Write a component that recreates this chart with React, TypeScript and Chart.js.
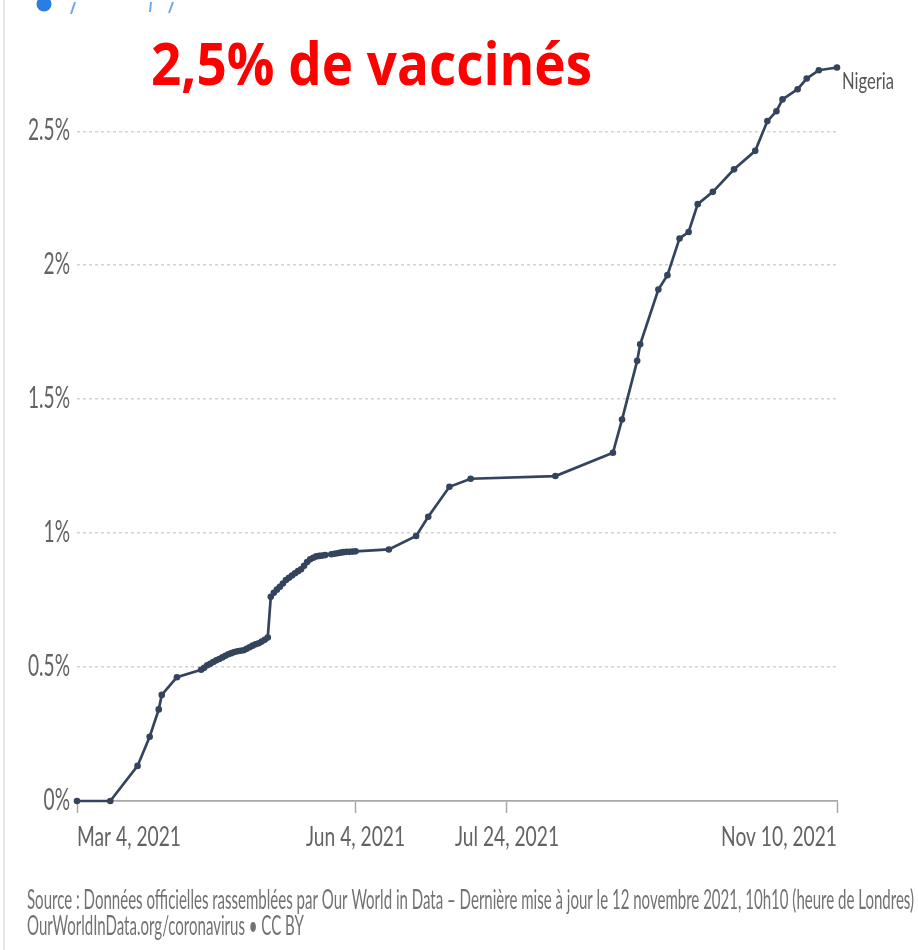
import React, { useEffect, useRef } from "react";
import { Chart, registerables } from "chart.js";

Chart.register(...registerables);

// Days counted from Mar 4, 2021
const dayOffsets = [
  0, 11, 20, 24, 27, 28, 33,
  41, 42, 43, 44, 45, 46, 47, 48, 49, 50, 51, 52, 53, 54, 55, 56, 57, 58, 59, 60, 61, 62, 63,
  64, 65, 66, 67, 68, 69, 70, 71, 72, 73, 74, 75, 76, 77, 78, 79, 80, 81, 82, 84, 85, 86, 87, 88, 89, 90, 91, 92,
  103, 112, 116, 123, 130, 158, 177, 180, 185, 186, 192, 195, 199, 202, 205, 210, 217, 224, 228, 231, 233, 238, 241, 245, 251,
];

// Share of people fully vaccinated, Nigeria (%)
const nigeriaValues = [
  0, 0, 0.131, 0.24, 0.342, 0.396, 0.462,
  0.49, 0.497, 0.507, 0.512, 0.519, 0.525, 0.53, 0.536, 0.542, 0.548, 0.552, 0.556, 0.559, 0.561, 0.563, 0.568, 0.574, 0.58, 0.585, 0.589, 0.595, 0.602, 0.61,
  0.762, 0.777, 0.789, 0.8, 0.812, 0.825, 0.833, 0.842, 0.85, 0.858, 0.865, 0.878, 0.892, 0.902, 0.908, 0.913, 0.915, 0.916, 0.918, 0.921, 0.923, 0.925, 0.927, 0.929, 0.93, 0.93, 0.931, 0.932,
  0.939, 0.989, 1.061, 1.173, 1.203, 1.213, 1.3, 1.424, 1.643, 1.705, 1.909, 1.963, 2.1, 2.124, 2.228, 2.274, 2.358, 2.427, 2.538, 2.575, 2.619, 2.657, 2.697, 2.728, 2.738,
];

const xTickDays = [0, 92, 142, 251];
const xTickLabels = ["Mar 4, 2021", "Jun 4, 2021", "Jul 24, 2021", "Nov 10, 2021"];
const yTickValues = [0, 0.5, 1, 1.5, 2, 2.5];
const yTickLabels = ["0%", "0.5%", "1%", "1.5%", "2%", "2.5%"];

const seriesName = "Nigeria";
const titleText = "2,5% de vaccinés";
const footerLine1 =
  "Source : Données officielles rassemblées par Our World in Data – Dernière mise à jour le 12 novembre 2021, 10h10 (heure de Londres)";
const footerLine2 = "OurWorldInData.org/coronavirus • CC BY";

const LINE_COLOR = "#33445c";

function drawScaled(
  ctx: CanvasRenderingContext2D,
  text: string,
  x: number,
  y: number,
  font: string,
  color: string,
  sx: number,
  align: CanvasTextAlign
) {
  ctx.save();
  ctx.font = font;
  ctx.fillStyle = color;
  ctx.textBaseline = "alphabetic";
  ctx.textAlign = align;
  ctx.translate(x, y);
  ctx.scale(sx, 1);
  ctx.fillText(text, 0, 0);
  ctx.restore();
}

function scaleFor(ctx: CanvasRenderingContext2D, text: string, font: string, target: number) {
  ctx.save();
  ctx.font = font;
  const w = ctx.measureText(text).width;
  ctx.restore();
  return w > 0 ? target / w : 1;
}

const overlayPlugin = {
  id: "overlayTexts",
  afterDraw(chart: any) {
    const ctx: CanvasRenderingContext2D = chart.ctx;
    const xs = chart.scales.x;
    const ys = chart.scales.y;

    // left page border
    ctx.save();
    ctx.strokeStyle = "#dcdcdc";
    ctx.lineWidth = 1.5;
    ctx.beginPath();
    ctx.moveTo(4, 0);
    ctx.lineTo(4, 950);
    ctx.stroke();
    ctx.restore();

    // cut-off blue heading fragment at top
    ctx.save();
    ctx.fillStyle = "#2a7de1";
    ctx.beginPath();
    ctx.arc(44, 4, 7.5, 0, Math.PI * 2);
    ctx.fill();
    ctx.strokeStyle = "#6fa8e8";
    ctx.lineWidth = 2;
    ctx.beginPath();
    ctx.moveTo(75, 2);
    ctx.lineTo(71, 14);
    ctx.moveTo(151, 2);
    ctx.lineTo(150, 12);
    ctx.moveTo(173, 2);
    ctx.lineTo(169, 13);
    ctx.stroke();
    ctx.restore();

    // y tick labels
    const yFont = "31px Lato";
    const ySx = scaleFor(ctx, "2.5%", yFont, 42);
    yTickValues.forEach((v, i) => {
      const py = ys.getPixelForValue(v);
      drawScaled(ctx, yTickLabels[i], 70, py + 9, yFont, "#636363", ySx, "right");
    });

    // x tick labels
    const xFont = "26px Lato";
    const xSx = scaleFor(ctx, "Mar 4, 2021", xFont, 104);
    xTickDays.forEach((d, i) => {
      const px = xs.getPixelForValue(d);
      const align: CanvasTextAlign =
        i === 0 ? "left" : i === xTickDays.length - 1 ? "right" : "center";
      drawScaled(ctx, xTickLabels[i], px, 846, xFont, "#636363", xSx, align);
    });

    // series label at the end of the line
    const lastIdx = dayOffsets.length - 1;
    const lx = xs.getPixelForValue(dayOffsets[lastIdx]);
    const ly = ys.getPixelForValue(nigeriaValues[lastIdx]);
    const nFont = "24px Lato";
    const nSx = scaleFor(ctx, seriesName, nFont, 52);
    drawScaled(ctx, seriesName, lx + 5, ly + 21, nFont, "#555555", nSx, "left");

    // big red title
    const tFont = "bold 59px 'Open Sans'";
    const tSx = scaleFor(ctx, titleText, tFont, 441);
    drawScaled(ctx, titleText, 151, 85, tFont, "#ff0000", tSx, "left");

    // footer
    const fFont = "26px Lato";
    const fSx = scaleFor(ctx, footerLine1, fFont, 887);
    drawScaled(ctx, footerLine1, 27, 909, fFont, "#727272", fSx, "left");
    drawScaled(ctx, footerLine2, 27, 935, fFont, "#727272", fSx, "left");
  },
};

export default function App() {
  const canvasRef = useRef<HTMLCanvasElement | null>(null);

  useEffect(() => {
    document.body.style.margin = "0";
    const canvas = canvasRef.current;
    if (!canvas) return;
    const points = dayOffsets.map((d, i) => ({ x: d, y: nigeriaValues[i] }));
    const chart = new Chart(canvas, {
      type: "line",
      data: {
        datasets: [
          {
            label: seriesName,
            data: points,
            borderColor: LINE_COLOR,
            backgroundColor: LINE_COLOR,
            borderWidth: 2.7,
            pointRadius: 3.3,
            pointBorderWidth: 0,
            pointBackgroundColor: LINE_COLOR,
            tension: 0,
            clip: false as any,
          },
        ],
      },
      options: {
        animation: false,
        responsive: true,
        maintainAspectRatio: false,
        layout: { padding: { left: 0, right: 81, top: 67, bottom: 0 } },
        plugins: {
          legend: { display: false },
          tooltip: { enabled: false },
          title: { display: false },
        },
        scales: {
          x: {
            type: "linear",
            min: xTickDays[0],
            max: xTickDays[xTickDays.length - 1],
            afterBuildTicks: (scale: any) => {
              scale.ticks = xTickDays.map((v) => ({ value: v }));
            },
            afterFit: (scale: any) => {
              scale.height = 149;
            },
            ticks: { display: false },
            grid: {
              display: true,
              drawOnChartArea: false,
              drawTicks: true,
              tickLength: 12,
              tickColor: "#a8a8a8",
              tickWidth: 1.5,
              color: "#a8a8a8",
            },
            border: { display: true, color: "#a8a8a8", width: 1.8 },
          },
          y: {
            type: "linear",
            min: 0,
            max: 2.74,
            afterBuildTicks: (scale: any) => {
              scale.ticks = yTickValues.map((v) => ({ value: v }));
            },
            afterFit: (scale: any) => {
              scale.width = 77;
            },
            ticks: { display: false },
            grid: {
              display: true,
              drawTicks: false,
              color: (c: any) => (c.tick && c.tick.value === 0 ? "rgba(0,0,0,0)" : "#d2d2d2"),
              lineWidth: 1.5,
            },
            border: { display: false, dash: [3, 3] },
          },
        },
      },
      plugins: [overlayPlugin],
    });
    return () => chart.destroy();
  }, []);

  return (
    <div
      style={{
        position: "absolute",
        left: 0,
        top: 0,
        width: 918,
        height: 950,
        background: "#ffffff",
      }}
    >
      <canvas ref={canvasRef} />
    </div>
  );
}
